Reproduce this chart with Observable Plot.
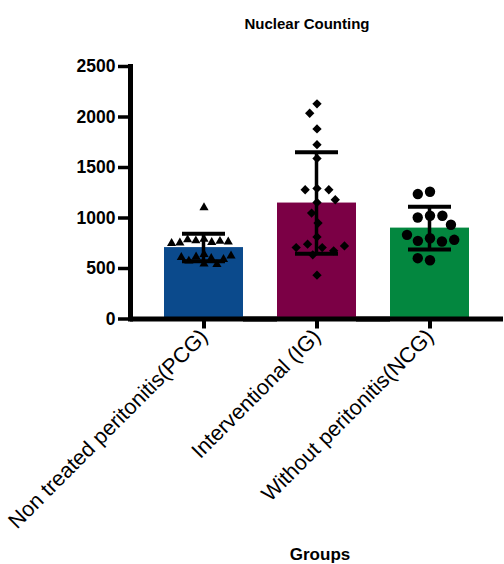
<!DOCTYPE html>
<html><head><meta charset="utf-8">
<script src="https://cdn.jsdelivr.net/npm/d3@7"></script>
<script src="https://cdn.jsdelivr.net/npm/@observablehq/plot@0.6"></script>
<style>body{margin:0;background:#fff}</style>
</head><body><div id="chart"></div>
<script>
const title = "Nuclear Counting";
const xLabel = "Groups";
const groups = ["Non treated peritonitis(PCG)", "Interventional (IG)", "Without peritonitis(NCG)"];
const colors = ["#0b4a8c", "#7b0045", "#03873f"];
const means = [707, 1148, 900];
const sds = [136, 502, 212];
const yTicks = [0, 500, 1000, 1500, 2000, 2500];
const pcgValues = [1104, 790, 775, 760, 770, 785, 755, 765, 750, 640, 615, 600, 575, 545, 540, 590, 610, 625];
const igValues = [2130, 2037, 1882, 1726, 1590, 1293, 1280, 1280, 1154, 1181, 1049, 950, 813, 741, 707, 675, 635, 707, 724, 434];
const ncgValues = [1260, 1237, 1022, 1005, 1022, 933, 800, 774, 767, 784, 833, 582, 602];

const summary = groups.map((g, i) => ({group: g, mean: means[i], lo: means[i] - sds[i], hi: means[i] + sds[i]}));
const series = [pcgValues, igValues, ncgValues];
const points = groups.flatMap((g, i) => series[i].map(v => ({group: g, value: v})));
const symbols = ["triangle", "diamond2", "circle"];
const radii = [3.4, 4.2, 5.2];
const pads = [1.5, 3.5, 2];
const gap = 17; // half of the gap between bars
const stemInset = 54.75; // leaves a 4px stem in the middle of each band

const dotMarks = groups.map((g, i) => Plot.dot(points.filter(d => d.group === g),
  Plot.dodgeX({anchor: "middle", padding: pads[i], fx: "group", y: "value", r: radii[i], symbol: symbols[i], fill: "black", stroke: "none"})));

const chart = Plot.plot({
  width: 504, height: 564,
  marginLeft: 129, marginRight: 0, marginTop: 66, marginBottom: 245.5,
  style: {fontFamily: "'Liberation Sans', Arial, sans-serif", background: "white", color: "black"},
  fx: {domain: groups, paddingInner: 0, paddingOuter: 0.152, label: null},
  y: {domain: [0, 2500]},
  color: {domain: groups, range: colors},
  marks: [
    Plot.barY(summary, {fx: "group", y: "mean", fill: "group", insetLeft: gap, insetRight: gap}),
    ...dotMarks,
    Plot.barY(summary, {fx: "group", y1: "lo", y2: "hi", fill: "black", insetLeft: stemInset, insetRight: stemInset}),
    Plot.ruleY(summary, {fx: "group", y: "hi", insetLeft: gap + 18, insetRight: gap + 18, stroke: "black", strokeWidth: 4}),
    Plot.ruleY(summary, {fx: "group", y: "lo", insetLeft: gap + 18, insetRight: gap + 18, stroke: "black", strokeWidth: 4}),
    Plot.ruleY([0], {insetLeft: -gap, insetRight: -gap, stroke: "black", strokeWidth: 5}),
    Plot.frame({anchor: "left", facetAnchor: "left", insetLeft: -gap, stroke: "black", strokeWidth: 5}),
    Plot.axisY({ticks: yTicks, tickFormat: d => String(d), dx: -gap, tickSize: 12, tickPadding: 3, strokeWidth: 3.5, fontSize: 17.5, fontWeight: "bold", label: null}),
    Plot.axisFx({anchor: "bottom", tickRotate: -45, fontSize: 21.5, tickSize: 10, strokeWidth: 4, tickPadding: 4, label: null}),
    Plot.text([title], {facet: "super", frameAnchor: "top", lineAnchor: "bottom", dy: -38, dx: -10, fontSize: 15, fontWeight: "bold"}),
    Plot.text([xLabel], {facet: "super", frameAnchor: "bottom", lineAnchor: "bottom", dy: 241, dx: 3, fontSize: 17, fontWeight: "bold"})
  ]
});
document.getElementById("chart").appendChild(chart);
</script>
</body></html>
